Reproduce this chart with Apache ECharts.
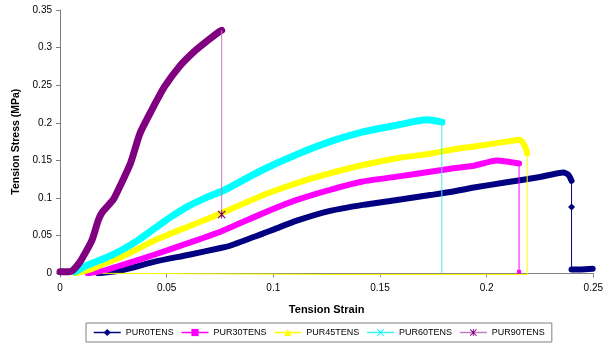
<!DOCTYPE html>
<html>
<head>
<meta charset="utf-8">
<script src="https://cdn.jsdelivr.net/npm/echarts@6/dist/echarts.min.js"></script>
<style>
html,body{margin:0;padding:0;background:#fff;}
#c{width:604px;height:348px;}
</style>
</head>
<body>
<div id="c"></div>
<script>
// ---- data (strain, stress MPa) ----
const seriesNames = ['PUR0TENS','PUR30TENS','PUR45TENS','PUR60TENS','PUR90TENS'];
const xTicks = [0, 0.05, 0.1, 0.15, 0.2, 0.25];
const yTicks = [0, 0.05, 0.1, 0.15, 0.2, 0.25, 0.3, 0.35];

const pur0Curve = [[0.018,0.000],[0.029,0.004],[0.0445,0.0155],[0.060,0.0244],[0.0758,0.034],[0.080,0.037],[0.0953,0.053],[0.100,0.058],[0.111,0.070],[0.1266,0.083],[0.142,0.091],[0.158,0.0975],[0.1735,0.104],[0.183,0.108],[0.194,0.114],[0.2094,0.121],[0.225,0.128],[0.236,0.134],[0.2383,0.131],[0.2398,0.123]];
const pur0Drop = [[0.2398,0.123],[0.2398,0.088],[0.2398,0.005]];
const pur0Tail = [[0.2398,0.005],[0.2445,0.005],[0.2497,0.006]];

const pur30Curve = [[0.013,0.000],[0.021,0.004],[0.029,0.011],[0.0445,0.025],[0.060,0.040],[0.0758,0.056],[0.0953,0.080],[0.111,0.0975],[0.1266,0.111],[0.142,0.122],[0.158,0.1285],[0.1735,0.135],[0.183,0.139],[0.194,0.143],[0.2047,0.150],[0.2094,0.1485],[0.2152,0.146]];
const pur30Drop = [[0.2152,0.146],[0.2152,0.002]];

const pur45Curve = [[0.007,0.000],[0.014,0.005],[0.021,0.013],[0.029,0.022],[0.0445,0.044],[0.060,0.062],[0.0758,0.080],[0.0953,0.104],[0.111,0.120],[0.1266,0.133],[0.142,0.144],[0.158,0.153],[0.1735,0.159],[0.183,0.164],[0.194,0.1685],[0.2094,0.175],[0.2157,0.1775],[0.218,0.1685],[0.219,0.160]];
const pur45Drop = [[0.219,0.160],[0.219,-0.0015],[0.125,-0.0015],[0.02,0.0]];

const pur60Curve = [[0.007,0.002],[0.013,0.011],[0.021,0.020],[0.029,0.031],[0.0367,0.044],[0.0445,0.060],[0.052,0.075],[0.060,0.089],[0.068,0.100],[0.0758,0.109],[0.080,0.115],[0.0953,0.138],[0.111,0.158],[0.1266,0.175],[0.142,0.188],[0.158,0.197],[0.172,0.204],[0.179,0.201]];
const pur60Drop = [[0.179,0.201],[0.179,0.0]];

const pur90Curve = [[0.000,0.002],[0.004,0.002],[0.006,0.004],[0.008,0.010],[0.010,0.018],[0.015,0.044],[0.018,0.071],[0.020,0.082],[0.025,0.098],[0.028,0.115],[0.033,0.146],[0.0375,0.186],[0.043,0.217],[0.049,0.248],[0.056,0.275],[0.063,0.295],[0.0695,0.310],[0.0745,0.321],[0.0758,0.323]];
const pur90Drop = [[0.0758,0.323],[0.0758,0.078]];

// marker positions (index into drop arrays)
const pur0Marks = [1];
const pur30Marks = [1];
const pur45Marks = [0];
const pur60Marks = [0];
const pur90Marks = [1];

// ---- styles ----
const X_PATH = 'path://M0,1L1,0L5,4L9,0L10,1L6,5L10,9L9,10L5,6L1,10L0,9L4,5Z';
const AST_PATH = 'path://M0,1L1,0L5,4L9,0L10,1L6,5L10,9L9,10L5,6L1,10L0,9L4,5ZM4.4,0L5.6,0L5.6,10L4.4,10Z';

const defs = [
  {name:seriesNames[0], color:'#000080', dropColor:'#000080', symbol:'diamond', msize:7, width:6, curve:pur0Curve, drop:pur0Drop, marks:pur0Marks, tail:pur0Tail},
  {name:seriesNames[1], color:'#ff00ff', dropColor:'#ff00ff', symbol:'rect', msize:4, width:6, curve:pur30Curve, drop:pur30Drop, marks:pur30Marks},
  {name:seriesNames[2], color:'#ffff00', dropColor:'#ffff00', symbol:'triangle', msize:6, width:6, curve:pur45Curve, drop:pur45Drop, marks:pur45Marks},
  {name:seriesNames[3], color:'#00ffff', dropColor:'#40f0f0', symbol:X_PATH, msize:6, width:7, curve:pur60Curve, drop:pur60Drop, marks:pur60Marks},
  {name:seriesNames[4], color:'#800080', dropColor:'#c080c0', symbol:AST_PATH, msize:8, width:7, curve:pur90Curve, drop:pur90Drop, marks:pur90Marks}
];

const series = [];
defs.forEach(d => {
  series.push({
    name: d.name, type: 'line', symbol: d.symbol, symbolSize: 0, showSymbol: true,
    clip: false, z: 3,
    lineStyle: {color: d.dropColor, width: 1},
    itemStyle: {color: d.color},
    data: d.drop.map((p, i) => d.marks.indexOf(i) >= 0 ? {value: p, symbolSize: d.msize} : {value: p, symbolSize: 0}),
    animation: false, silent: true
  });
  series.push({
    name: d.name, type: 'line', symbol: d.symbol, showSymbol: false, z: 2,
    smooth: 0.2,
    lineStyle: {color: d.color, width: d.width, cap: 'round', join: 'round'},
    itemStyle: {color: d.color},
    data: d.curve, animation: false, silent: true
  });
  if (d.tail) {
    series.push({
      name: d.name, type: 'line', showSymbol: false, z: 2,
      lineStyle: {color: d.color, width: d.width, cap: 'round', join: 'round'},
      itemStyle: {color: d.color},
      data: d.tail, animation: false, silent: true
    });
  }
});

const chart = echarts.init(document.getElementById('c'), null, {renderer: 'canvas'});
chart.setOption({
  backgroundColor: '#fff',
  animation: false,
  textStyle: {fontFamily: 'Liberation Sans, Arial, sans-serif'},
  grid: {left: 60, right: 10.7, top: 10, bottom: 74.7, containLabel: false, outerBoundsMode: 'none'},
  xAxis: {
    type: 'value', min: xTicks[0], max: xTicks[xTicks.length-1], interval: xTicks[1]-xTicks[0],
    name: 'Tension Strain', nameLocation: 'middle', nameGap: 31,
    nameTextStyle: {fontWeight: 'bold', fontSize: 11, color: '#000'},
    axisLine: {show: true, lineStyle: {color: '#808080', width: 1}},
    axisTick: {show: true, inside: false, length: 4, lineStyle: {color: '#808080'}},
    axisLabel: {color: '#000', fontSize: 10, margin: 10},
    splitLine: {show: false}
  },
  yAxis: {
    type: 'value', min: yTicks[0], max: yTicks[yTicks.length-1], interval: yTicks[1]-yTicks[0],
    name: 'Tension Stress (MPa)', nameLocation: 'middle', nameGap: 37,
    nameTextStyle: {fontWeight: 'bold', fontSize: 10.5, color: '#000'},
    axisLine: {show: true, lineStyle: {color: '#808080', width: 1}},
    axisTick: {show: true, inside: false, length: 4, lineStyle: {color: '#808080'}},
    axisLabel: {color: '#000', fontSize: 10, margin: 8},
    splitLine: {show: false}
  },
  legend: {
    data: seriesNames, left: 86, top: 323, orient: 'horizontal',
    padding: [5, 7, 5, 7], itemGap: 7, itemWidth: 27, itemHeight: 9,
    borderColor: '#808080', borderWidth: 1, backgroundColor: '#fff',
    lineStyle: {width: 1.5},
    textStyle: {fontSize: 9, color: '#000'},
    selectedMode: false
  },
  series: series
});
</script>
</body>
</html>
